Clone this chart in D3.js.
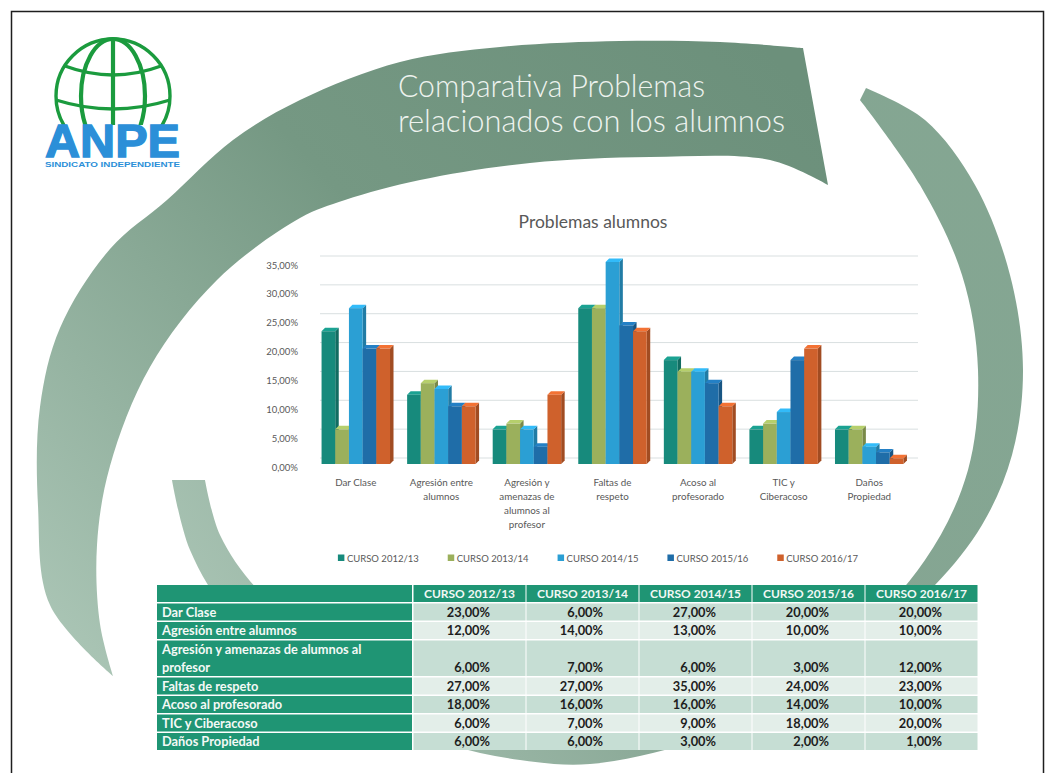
<!DOCTYPE html>
<html>
<head>
<meta charset="utf-8">
<script src="https://cdn.jsdelivr.net/npm/d3@7"></script>
<style>
html, body { margin: 0; padding: 0; background: #fff; }
svg { display: block; font-family: Lato, "Open Sans", sans-serif; }
</style>
</head>
<body>
<script>
const categories = ["Dar Clase", "Agresión entre alumnos", "Agresión y amenazas de alumnos al profesor",
  "Faltas de respeto", "Acoso al profesorado", "TIC y Ciberacoso", "Daños Propiedad"];
const axisLabelLines = [["Dar Clase"], ["Agresión entre", "alumnos"], ["Agresión y", "amenazas de", "alumnos al", "profesor"],
  ["Faltas de", "respeto"], ["Acoso al", "profesorado"], ["TIC y", "Ciberacoso"], ["Daños", "Propiedad"]];
const tableLabelLines = [["Dar Clase"], ["Agresión entre alumnos"], ["Agresión y amenazas de alumnos al", "profesor"],
  ["Faltas de respeto"], ["Acoso al profesorado"], ["TIC y Ciberacoso"], ["Daños Propiedad"]];
const series = ["CURSO 2012/13", "CURSO 2013/14", "CURSO 2014/15", "CURSO 2015/16", "CURSO 2016/17"];
const curso1213 = [23, 12, 6, 27, 18, 6, 6];
const curso1314 = [6, 14, 7, 27, 16, 7, 6];
const curso1415 = [27, 13, 6, 35, 16, 9, 3];
const curso1516 = [20, 10, 3, 24, 14, 18, 2];
const curso1617 = [20, 10, 12, 23, 10, 20, 1];
const yTicks = [0, 5, 10, 15, 20, 25, 30, 35];
const colors = ["#178a7c", "#9bb05c", "#2b9fd4", "#1f6da8", "#cf612c"];

const seriesValues = [curso1213, curso1314, curso1415, curso1516, curso1617];
const fmt = v => d3.format(".2f")(v).replace(".", ",") + "%";

const W = 1046, H = 773;
const svg = d3.select("body").append("svg").attr("width", W).attr("height", H);
const defs = svg.append("defs");

// ---- background swooshes ----
function grad(id, x1, y1, x2, y2, stops) {
  const g = defs.append("linearGradient").attr("id", id).attr("gradientUnits", "userSpaceOnUse")
    .attr("x1", x1).attr("y1", y1).attr("x2", x2).attr("y2", y2);
  stops.forEach(s => g.append("stop").attr("offset", s[0]).attr("stop-color", s[1]));
}
grad("bigBand", 760, 40, 90, 660, [[0, "#6c907b"], [0.45, "#759883"], [1, "#a9c4b4"]]);
grad("ring", 960, 120, 200, 600, [[0, "#84a692"], [0.6, "#86a593"], [1, "#a7c2b2"]]);

const edge = d3.line().curve(d3.curveCatmullRom);
function band(outer, inner) {
  return edge(outer) + edge(inner).replace("M", "L") + "Z";
}

svg.append("path").attr("fill", "url(#ring)").attr("d", band(
  [[866, 88], [925, 120], [975, 185], [1010, 275], [1023, 370], [1012, 455], [982, 525], [935, 585],
   [860, 650], [770, 703], [690, 742], [590, 764], [520, 760], [450, 745], [370, 712], [290, 662],
   [230, 615], [190, 550], [172, 480]],
  [[205, 480], [220, 535], [258, 590], [330, 650], [440, 706], [580, 740], [720, 700], [850, 638],
   [925, 560], [968, 470], [978, 370], [962, 275], [920, 185], [860, 100]]
));

svg.append("path").attr("fill", "url(#bigBand)").attr("d", band(
  [[113, 676], [50, 605], [38, 506], [40, 407], [60, 328], [110, 249], [167, 200], [233, 140], [300, 100],
   [400, 62], [500, 47], [620, 41], [720, 42], [803, 48]],
  [[828, 185], [770, 160], [650, 157], [530, 163], [420, 180], [345, 200], [300, 218], [217, 280],
   [150, 367], [110, 466], [97, 545], [100, 624], [113, 676]]
));

// ---- slide title ----
const title = svg.append("g").attr("fill", "#eef3ef").attr("font-weight", 300).attr("font-size", 32);
title.append("text").attr("x", 398).attr("y", 97).attr("textLength", 307).attr("lengthAdjust", "spacingAndGlyphs")
  .text("Comparativa Problemas");
title.append("text").attr("x", 398).attr("y", 132).attr("textLength", 387).attr("lengthAdjust", "spacingAndGlyphs")
  .text("relacionados con los alumnos");

// ---- logo ----
defs.append("clipPath").attr("id", "globeClip").append("rect").attr("x", 40).attr("y", 30).attr("width", 150).attr("height", 95);
const globe = svg.append("g").attr("clip-path", "url(#globeClip)").attr("fill", "none").attr("stroke", "#1b9b3e");
globe.append("circle").attr("cx", 113).attr("cy", 96).attr("r", 57).attr("stroke-width", 3.4);
globe.append("ellipse").attr("cx", 113).attr("cy", 96).attr("rx", 32).attr("ry", 57).attr("stroke-width", 4.2);
globe.append("line").attr("x1", 113).attr("x2", 113).attr("y1", 39).attr("y2", 125).attr("stroke-width", 4.2);
globe.append("path").attr("d", "M65,66 Q113,84 161,66").attr("stroke-width", 3.4);
globe.append("path").attr("d", "M56,100 Q113,118 170,100").attr("stroke-width", 3.4);
svg.append("text").attr("x", 45).attr("y", 157).attr("font-family", "'Liberation Sans', Arial, sans-serif")
  .attr("font-weight", "bold").attr("font-size", 47).attr("fill", "#2b8fd8").attr("stroke", "#2b8fd8").attr("stroke-width", 1.4)
  .attr("textLength", 135).attr("lengthAdjust", "spacingAndGlyphs").text("ANPE");
svg.append("text").attr("x", 45).attr("y", 167).attr("font-family", "'Liberation Sans', Arial, sans-serif")
  .attr("font-weight", "bold").attr("font-size", 7).attr("fill", "#2b8fd8")
  .attr("textLength", 135).attr("lengthAdjust", "spacingAndGlyphs").text("SINDICATO INDEPENDIENTE");

// ---- chart ----
const x0 = d3.scaleBand().domain(categories).range([313, 912]).paddingInner(0.2).paddingOuter(0.1);
const x1 = d3.scaleBand().domain(series).range([0, x0.bandwidth()]);
const y = d3.scaleLinear().domain([0, 35]).range([467, 265]);
const dx = 3.5, dy = 3.5, lift = 3;

svg.append("text").attr("x", 593).attr("y", 228).attr("text-anchor", "middle")
  .attr("font-size", 17.5).attr("fill", "#595959").text("Problemas alumnos");

svg.append("g").selectAll("line").data(yTicks).join("line")
  .attr("x1", 320).attr("x2", 918)
  .attr("y1", d => y(d) - 9).attr("y2", d => y(d) - 9)
  .attr("stroke", "#d9dfe0").attr("stroke-width", 1);

svg.append("g").selectAll("text").data(yTicks).join("text")
  .attr("x", 298).attr("y", d => y(d) + 3.5).attr("text-anchor", "end")
  .attr("font-size", 9.5).attr("fill", "#595959").text(d => fmt(d));

const bars = svg.append("g");
categories.forEach((c, i) => {
  seriesValues.forEach((vals, j) => {
    const v = vals[i];
    const xl = x0(c) + x1(series[j]);
    const w = x1.bandwidth();
    const yt = y(v) - lift, yb = y(0) - lift;
    const col = d3.color(colors[j]);
    bars.append("path")
      .attr("d", `M${xl + w},${yt}L${xl + w + dx},${yt - dy}L${xl + w + dx},${yb - dy}L${xl + w},${yb}Z`)
      .attr("fill", col.darker(0.7));
    bars.append("path")
      .attr("d", `M${xl},${yt}L${xl + dx},${yt - dy}L${xl + w + dx},${yt - dy}L${xl + w},${yt}Z`)
      .attr("fill", col.brighter(0.45));
    bars.append("rect").attr("x", xl).attr("y", yt).attr("width", w).attr("height", yb - yt).attr("fill", col);
  });
});

const catLabels = svg.append("g").attr("font-size", 9.8).attr("fill", "#595959").attr("text-anchor", "middle");
categories.forEach((c, i) => {
  const t = catLabels.append("text").attr("x", x0(c) + x0.bandwidth() / 2).attr("y", 486);
  axisLabelLines[i].forEach((ln, k) => {
    t.append("tspan").attr("x", x0(c) + x0.bandwidth() / 2).attr("dy", k === 0 ? 0 : 14).text(ln);
  });
});

// legend
const legend = svg.append("g").attr("font-size", 9.5).attr("fill", "#595959");
const legGap = 29;
let lx = 0;
series.forEach((s, j) => {
  const g = legend.append("g").attr("transform", `translate(${lx},0)`);
  g.append("rect").attr("x", 0).attr("y", -3.5).attr("width", 6.5).attr("height", 6.5).attr("fill", colors[j]);
  const t = g.append("text").attr("x", 9).attr("y", 3.5).text(s);
  lx += 9 + t.node().getComputedTextLength() + legGap;
});
legend.attr("transform", `translate(${598 - (lx - legGap) / 2},558)`);

// ---- table ----
const tbl = svg.append("g");
const cols = d3.scaleBand().domain(series).range([413, 978]);
const labelX0 = 157, labelX1 = 413;
const green = "#1f9574";
const headH = 17, gap = 1.5, lineH = 18.5;
const tableTop = 585;
const tableH = headH + gap + d3.sum(tableLabelLines, l => 17 + (l.length - 1) * lineH + gap) - gap;
tbl.append("rect").attr("x", labelX0).attr("y", tableTop).attr("width", 978 - labelX0).attr("height", tableH).attr("fill", "#fff");
let ty = tableTop;
tbl.append("rect").attr("x", labelX0).attr("y", ty).attr("width", labelX1 - labelX0 - 1).attr("height", headH).attr("fill", green);
series.forEach(s => {
  tbl.append("rect").attr("x", cols(s) + 0.5).attr("y", ty).attr("width", cols.bandwidth() - 1).attr("height", headH).attr("fill", green);
  tbl.append("text").attr("x", cols(s) + cols.bandwidth() / 2).attr("y", ty + 12.5).attr("text-anchor", "middle")
    .attr("font-size", 12).attr("font-weight", "bold").attr("fill", "#f2f8f5").text(s);
});
ty += headH + gap;
categories.forEach((c, i) => {
  const n = tableLabelLines[i].length;
  const h = 17 + (n - 1) * lineH;
  const fill = i % 2 === 0 ? "#c6ded4" : "#e3eee9";
  tbl.append("rect").attr("x", labelX0).attr("y", ty).attr("width", labelX1 - labelX0 - 1).attr("height", h).attr("fill", green);
  tableLabelLines[i].forEach((ln, k) => {
    tbl.append("text").attr("x", 162).attr("y", ty + 13 + k * lineH)
      .attr("font-size", 12.8).attr("font-weight", "bold").attr("fill", "#f4f9f6").text(ln);
  });
  series.forEach((s, j) => {
    tbl.append("rect").attr("x", cols(s) + 0.5).attr("y", ty).attr("width", cols.bandwidth() - 1).attr("height", h).attr("fill", fill);
    tbl.append("text").attr("x", cols(s) + cols.bandwidth() - 36).attr("y", ty + 13 + (n - 1) * lineH)
      .attr("text-anchor", "end").attr("font-size", 12.8).attr("font-weight", "bold").attr("fill", "#1d1d1d")
      .text(fmt(seriesValues[j][i]));
  });
  ty += h + gap;
});

// ---- page frame ----
svg.append("rect").attr("x", 11.5).attr("y", 11.5).attr("width", 1032).attr("height", 800)
  .attr("fill", "none").attr("stroke", "#1e1e1e").attr("stroke-width", 1.5);
</script>
</body>
</html>
